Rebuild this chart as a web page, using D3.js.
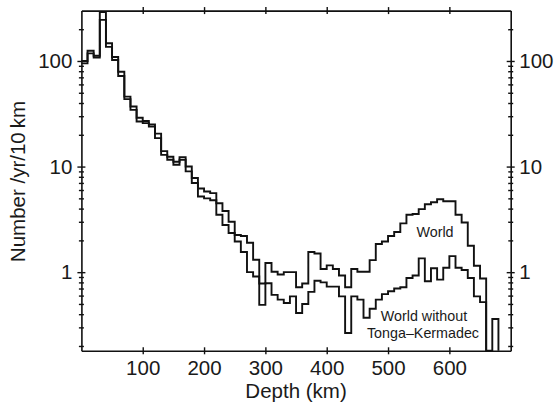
<!DOCTYPE html>
<html>
<head>
<meta charset="utf-8">
<script src="https://cdn.jsdelivr.net/npm/d3@7"></script>
<style>
  html, body { margin: 0; padding: 0; background: #fff; }
  svg { display: block; }
  text { font-family: "Liberation Sans", Arial, Helvetica, sans-serif; fill: #1a1a1a; }
</style>
</head>
<body>
<svg id="chart" width="554" height="407"></svg>
<script>
// Bin start depths (km), 10 km bins
const depthKm = [0,10,20,30,40,50,60,70,80,90,100,110,120,130,140,150,160,170,180,190,
  200,210,220,230,240,250,260,270,280,290,300,310,320,330,340,350,360,370,380,390,
  400,410,420,430,440,450,460,470,480,490,500,510,520,530,540,550,560,570,580,590,
  600,610,620,630,640,650,660,670];

// Earthquakes per year per 10 km, whole world
const worldRate = [100,125,112,290,147,109,79,46,37,29,
  27,25,20.5,14,12.4,11.1,12.3,10.0,7.8,6.2,
  5.8,5.6,4.5,3.8,3.0,2.25,2.2,1.9,1.31,0.78,
  1.22,1.01,0.95,1.0,1.0,0.72,0.78,1.55,1.5,1.07,
  1.16,1.07,0.93,0.72,1.07,1.01,1.01,1.3,1.85,1.95,
  2.2,2.4,2.9,3.5,3.55,3.95,4.4,4.6,4.9,4.7,
  4.7,3.5,2.95,1.78,1.15,0.87,0,0.36];

// Same, excluding the Tonga–Kermadec zone
const noTongaRate = [95,118,108,245,136,102,72,43.5,34.4,26.7,
  25.8,23.9,18.6,12.9,11.6,10.4,11.6,9.0,7.0,5.2,
  5.0,4.8,3.5,2.8,2.35,1.95,1.55,1.0,0.91,0.49,
  0.785,0.61,0.55,0.51,0.59,0.41,0.50,0.65,0.83,0.8,
  0.73,0.73,0.59,0.265,0.59,0.55,0.37,0.45,0.55,0.62,
  0.66,0.70,0.72,0.88,0.93,1.35,0.82,1.09,0.85,1.1,
  1.42,1.1,1.05,0.88,0.59,0.52];

const xTickValues = [100,200,300,400,500,600];
const yMajorTicks = [1,10,100];
const yMinorTicks = [0.2,0.3,0.4,0.5,0.6,0.7,0.8,0.9,2,3,4,5,6,7,8,9,20,30,40,50,60,70,80,90,200];

const binWidth = 10;
const svg = d3.select("#chart");
const W = 554, H = 407;
const margin = {left: 81.4, right: 43.3, top: 10.6, bottom: 56.2};
const x0 = margin.left, x1 = W - margin.right;
const y0 = H - margin.bottom, y1 = margin.top;

const x = d3.scaleLinear().domain([0, 700]).range([x0, x1]);
const yMin = 0.18;
const y = d3.scaleLog().domain([yMin, 300]).range([y0, y1]);

// Histogram outline: step line, dropping to the floor after the last bin
function stepPoints(values) {
  const pts = values.map((v, i) => [depthKm[i], v]);
  const lastEnd = depthKm[values.length - 1] + binWidth;
  pts.push([lastEnd, values[values.length - 1]]);
  pts.push([lastEnd, 0]);
  return pts;
}
const line = d3.line()
  .x(d => x(d[0]))
  .y(d => y(Math.max(d[1], yMin)))
  .curve(d3.curveStepAfter);

svg.append("path")
  .attr("d", line(stepPoints(noTongaRate)))
  .attr("fill", "none").attr("stroke", "#111").attr("stroke-width", 1.9)
  .attr("stroke-linejoin", "miter");
svg.append("path")
  .attr("d", line(stepPoints(worldRate)))
  .attr("fill", "none").attr("stroke", "#111").attr("stroke-width", 1.9)
  .attr("stroke-linejoin", "miter");

// Axes with ticks crossing the frame
const fontPx = 20.5;
const allY = yMinorTicks.concat(yMajorTicks).sort((a, b) => a - b);
const fmtY = d => yMajorTicks.includes(d) ? String(d) : "";

function crossTicksY(g, major, minor) {
  g.selectAll(".tick line")
    .attr("x1", d => yMajorTicks.includes(d) ? -major : -minor)
    .attr("x2", d => yMajorTicks.includes(d) ? major : minor);
}

const leftAxis = svg.append("g").attr("transform", `translate(${x0},0)`)
  .call(d3.axisLeft(y).tickValues(allY).tickFormat(fmtY).tickSizeOuter(0));
crossTicksY(leftAxis, 4, 2.5);
leftAxis.selectAll(".tick text").attr("x", -9).attr("font-size", fontPx);

const rightAxis = svg.append("g").attr("transform", `translate(${x1},0)`)
  .call(d3.axisRight(y).tickValues(allY).tickFormat(fmtY).tickSizeOuter(0));
crossTicksY(rightAxis, 4, 2.5);
rightAxis.selectAll(".tick text").attr("x", 8.6).attr("font-size", fontPx);

const bottomAxis = svg.append("g").attr("transform", `translate(0,${y0})`)
  .call(d3.axisBottom(x).tickValues(xTickValues).tickSizeOuter(0));
bottomAxis.selectAll(".tick line").attr("y1", -3.5).attr("y2", 3.5);
bottomAxis.selectAll(".tick text").attr("y", 10).attr("font-size", fontPx);

const topAxis = svg.append("g").attr("transform", `translate(0,${y1})`)
  .call(d3.axisTop(x).tickValues(xTickValues).tickFormat("").tickSizeOuter(0));
topAxis.selectAll(".tick line").attr("y1", -3.5).attr("y2", 3.5);

svg.selectAll(".domain").attr("stroke", "#111").attr("stroke-width", 1.6);
svg.selectAll(".tick line").attr("stroke", "#111").attr("stroke-width", 1.4);
svg.selectAll(".tick text").attr("fill", "#1a1a1a").attr("font-family", "'Liberation Sans', Arial, sans-serif");

// Axis titles
svg.append("text")
  .attr("x", (x0 + x1) / 2).attr("y", 398)
  .attr("text-anchor", "middle").attr("font-size", fontPx)
  .text("Depth (km)");

svg.append("text")
  .attr("transform", `translate(25,181.5) rotate(-90)`)
  .attr("text-anchor", "middle").attr("font-size", fontPx)
  .text("Number /yr/10\u2009km");

// Curve labels
svg.append("text")
  .attr("x", 435).attr("y", 236.7)
  .attr("text-anchor", "middle").attr("font-size", 14.3)
  .text("World");
svg.append("text")
  .attr("x", 424).attr("y", 320.7)
  .attr("text-anchor", "middle").attr("font-size", 14.3)
  .text("World without");
svg.append("text")
  .attr("x", 423).attr("y", 338.3)
  .attr("text-anchor", "middle").attr("font-size", 14.3)
  .text("Tonga\u2013Kermadec");
</script>
</body>
</html>
